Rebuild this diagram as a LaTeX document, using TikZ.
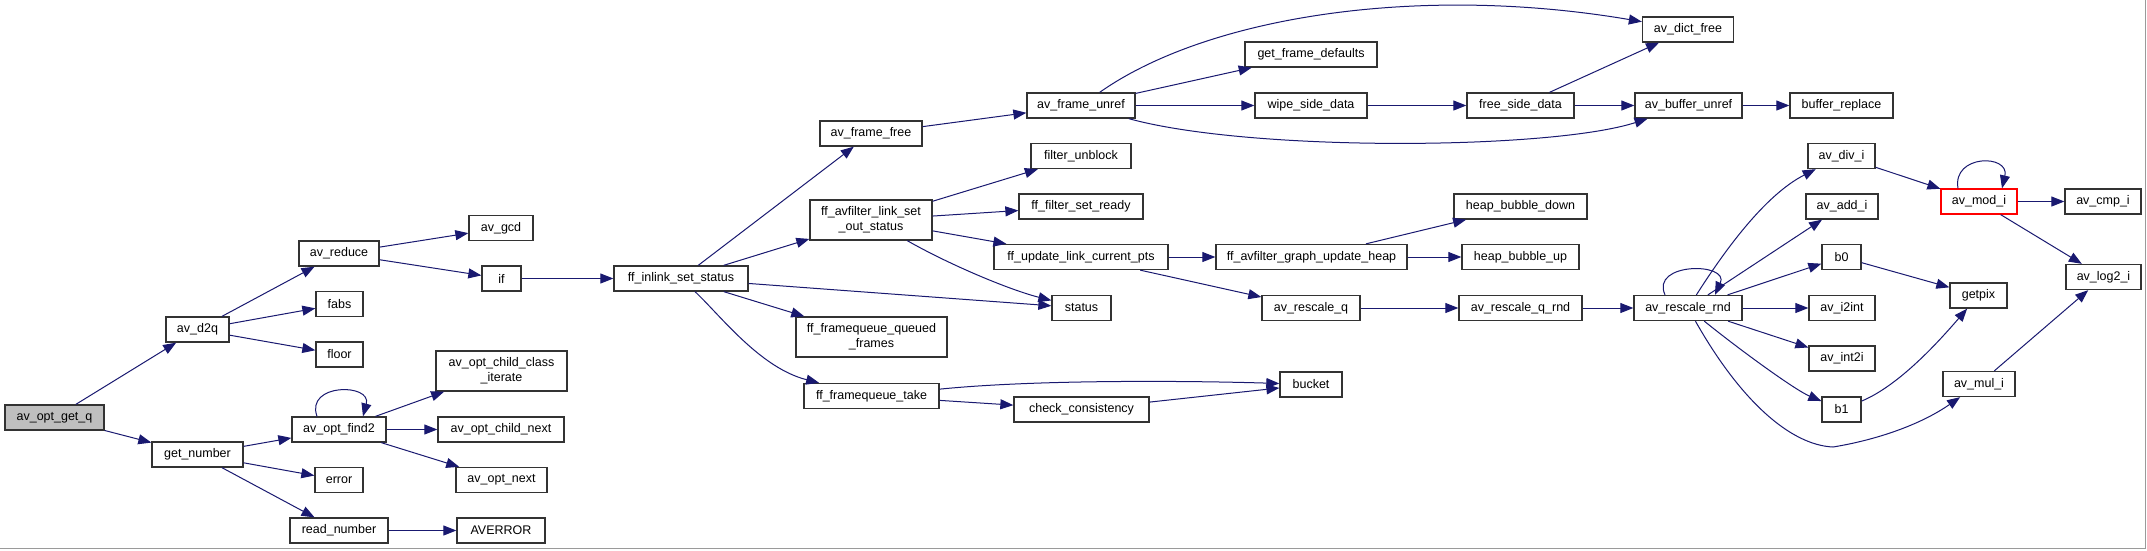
\documentclass[tikz,border=0pt]{standalone}
\usepackage{fontspec}
\setmainfont{Liberation Sans}
\usetikzlibrary{arrows.meta,calc}
\definecolor{navy}{HTML}{191970}
\definecolor{boxline}{HTML}{333333}
\definecolor{rootfill}{HTML}{BFBFBF}
\definecolor{frameg}{HTML}{9A9A9A}
\tikzset{
  box/.style={draw=boxline, line width=1.3pt, fill=white, rectangle, inner sep=0pt,
    minimum height=25pt, font=\fontsize{12.5}{15}\selectfont, text=black, align=center},
  tall/.style={minimum height=40pt},
  conn/.style={draw=navy, line width=1pt, -{Triangle[length=13pt,width=10pt]}},
}
\begin{document}
\begin{tikzpicture}[x=1pt,y=-1pt]
\path[use as bounding box, fill=white] (0,0) rectangle (2147,550);
\draw[frameg, line width=1pt] (0,548.5) -- (2145.5,548.5) -- (2145.5,0);

% nodes
\node[box,minimum width=99pt,fill=rootfill] (getq) at (54.5,417.5) {av\_opt\_get\_q};
\node[box,minimum width=63pt] (d2q) at (197.5,329.5) {av\_d2q};
\node[box,minimum width=80pt] (reduce) at (339,253.5) {av\_reduce};
\node[box,minimum width=47pt] (fabs) at (339.5,304) {fabs};
\node[box,minimum width=47pt] (floor) at (339.5,354.5) {floor};
\node[box,minimum width=91pt] (getnum) at (197.5,454.5) {get\_number};
\node[box,minimum width=94pt] (find2) at (339,429.5) {av\_opt\_find2};
\node[box,minimum width=48pt] (error) at (339,480) {error};
\node[box,minimum width=98pt] (readnum) at (339,530.5) {read\_number};
\node[box,minimum width=64pt] (gcd) at (501,228) {av\_gcd};
\node[box,minimum width=39pt] (if) at (501.5,278.5) {if};
\node[box,tall,minimum width=131pt] (classiter) at (501.5,371) {av\_opt\_child\_class\\\_iterate};
\node[box,minimum width=126pt] (childnext) at (501,429.5) {av\_opt\_child\_next};
\node[box,minimum width=91pt] (optnext) at (501.5,480) {av\_opt\_next};
\node[box,minimum width=88pt] (averror) at (501,530.5) {AVERROR};
\node[box,minimum width=134pt] (inlink) at (681,278.5) {ff\_inlink\_set\_status};
\node[box,minimum width=102pt] (framefree) at (871,133.5) {av\_frame\_free};
\node[box,tall,minimum width=122pt] (setout) at (871,220) {ff\_avfilter\_link\_set\\\_out\_status};
\node[box,tall,minimum width=151pt] (fqqueued) at (871.5,337) {ff\_framequeue\_queued\\\_frames};
\node[box,minimum width=135pt] (fqtake) at (871.5,396) {ff\_framequeue\_take};
\node[box,minimum width=108pt] (unref) at (1081,105.5) {av\_frame\_unref};
\node[box,minimum width=100pt] (unblock) at (1081,156) {filter\_unblock};
\node[box,minimum width=124pt] (setready) at (1081,206.5) {ff\_filter\_set\_ready};
\node[box,minimum width=174pt] (updpts) at (1081,257) {ff\_update\_link\_current\_pts};
\node[box,minimum width=59pt] (status) at (1081.5,308) {status};
\node[box,minimum width=135pt] (checkc) at (1081.5,409.5) {check\_consistency};
\node[box,minimum width=132pt] (getdef) at (1311,54.5) {get\_frame\_defaults};
\node[box,minimum width=112pt] (wipe) at (1311,105.5) {wipe\_side\_data};
\node[box,minimum width=191pt] (updheap) at (1311.5,257) {ff\_avfilter\_graph\_update\_heap};
\node[box,minimum width=98pt] (rescaleq) at (1311,308) {av\_rescale\_q};
\node[box,minimum width=62pt] (bucket) at (1311,384.5) {bucket};
\node[box,minimum width=91pt] (dictfree) at (1688,29.5) {av\_dict\_free};
\node[box,minimum width=107pt] (freeside) at (1520.5,105.5) {free\_side\_data};
\node[box,minimum width=133pt] (bubdown) at (1520.5,206.5) {heap\_bubble\_down};
\node[box,minimum width=117pt] (bubup) at (1520.5,257) {heap\_bubble\_up};
\node[box,minimum width=123pt] (rqrnd) at (1520.5,308) {av\_rescale\_q\_rnd};
\node[box,minimum width=107pt] (bufunref) at (1688.5,105.5) {av\_buffer\_unref};
\node[box,minimum width=108pt] (rrnd) at (1688,308) {av\_rescale\_rnd};
\node[box,minimum width=103pt] (bufrepl) at (1841.5,105.5) {buffer\_replace};
\node[box,minimum width=67pt] (divi) at (1841.5,156) {av\_div\_i};
\node[box,minimum width=72pt] (addi) at (1842,206.5) {av\_add\_i};
\node[box,minimum width=39pt] (b0) at (1841.5,257) {b0};
\node[box,minimum width=66pt] (i2int) at (1842,308) {av\_i2int};
\node[box,minimum width=66pt] (int2i) at (1842,358.5) {av\_int2i};
\node[box,minimum width=39pt] (b1) at (1841.5,409.5) {b1};
\node[box,minimum width=76pt,draw=red] (modi) at (1979,201.5) {av\_mod\_i};
\node[box,minimum width=57pt] (getpix) at (1978.5,295.5) {getpix};
\node[box,minimum width=72pt] (muli) at (1979,384) {av\_mul\_i};
\node[box,minimum width=76pt] (cmpi) at (2103,201.5) {av\_cmp\_i};
\node[box,minimum width=75pt] (log2i) at (2103.5,277) {av\_log2\_i};

% connectors
\draw[conn] (getq) -- (d2q);
\draw[conn] (getq) -- (getnum);
\draw[conn] (d2q) -- (reduce);
\draw[conn] (d2q) -- (fabs);
\draw[conn] (d2q) -- (floor);
\draw[conn] (reduce) -- (gcd);
\draw[conn] (reduce) -- (if);
\draw[conn] (if) -- (inlink);
\draw[conn] (getnum) -- (find2);
\draw[conn] (getnum) -- (error);
\draw[conn] (getnum) -- (readnum);
\draw[conn] ($(find2.north)+(-22,0)$) .. controls (305,383) and (372,383) .. ($(find2.north)+(24,0)$);
\draw[conn] (find2) -- (classiter);
\draw[conn] (find2) -- (childnext);
\draw[conn] (find2) -- (optnext);
\draw[conn] (readnum) -- (averror);
\draw[conn] (inlink) -- (framefree);
\draw[conn] (inlink) -- (setout);
\draw[conn] (inlink) -- (status);
\draw[conn] (inlink) -- (fqqueued);
\draw[conn] (inlink) .. controls (720,315) and (760,368) .. (fqtake);
\draw[conn] (framefree) -- (unref);
\draw[conn] (setout) -- (unblock);
\draw[conn] (setout) -- (setready);
\draw[conn] (setout) -- (updpts);
\draw[conn] (setout) .. controls (950,265) and (1010,290) .. (status);
\draw[conn] (fqtake) .. controls (1040,379) and (1200,381) .. (bucket);
\draw[conn] (fqtake) -- (checkc);
\draw[conn] (checkc) -- (bucket);
\draw[conn] (unref) .. controls (1208,16) and (1420,-16) .. (dictfree);
\draw[conn] (unref) -- (getdef);
\draw[conn] (unref) -- (wipe);
\draw[conn] (unref) .. controls (1250,152) and (1550,150) .. (bufunref);
\draw[conn] (wipe) -- (freeside);
\draw[conn] (freeside) -- (dictfree);
\draw[conn] (freeside) -- (bufunref);
\draw[conn] (bufunref) -- (bufrepl);
\draw[conn] (updpts) -- (updheap);
\draw[conn] (updpts) -- (rescaleq);
\draw[conn] (updheap) -- (bubdown);
\draw[conn] (updheap) -- (bubup);
\draw[conn] (rescaleq) -- (rqrnd);
\draw[conn] (rqrnd) -- (rrnd);
\draw[conn] ($(rrnd.north)+(-23,0)$) .. controls (1650,262) and (1730,262) .. ($(rrnd.north)+(27,0)$);
\draw[conn] (rrnd) .. controls (1725,250) and (1765,195) .. (divi);
\draw[conn] (rrnd) -- (addi);
\draw[conn] (rrnd) -- (b0);
\draw[conn] (rrnd) -- (i2int);
\draw[conn] (rrnd) -- (int2i);
\draw[conn] (rrnd) .. controls (1740,350) and (1795,390) .. (b1);
\draw[conn] (rrnd) .. controls (1740,400) and (1790,445) .. (1833,447) .. controls (1876,440) and (1920,425) .. (muli);
\draw[conn] (divi) -- (modi);
\draw[conn] ($(modi.north)+(-21,0)$) .. controls (1952,154) and (2010,154) .. ($(modi.north)+(23,0)$);
\draw[conn] (modi) -- (cmpi);
\draw[conn] (modi) -- (log2i);
\draw[conn] (b0) -- (getpix);
\draw[conn] (b1) .. controls (1900,385) and (1940,340) .. (getpix);
\draw[conn] (muli) -- (log2i);
\end{tikzpicture}
\end{document}
